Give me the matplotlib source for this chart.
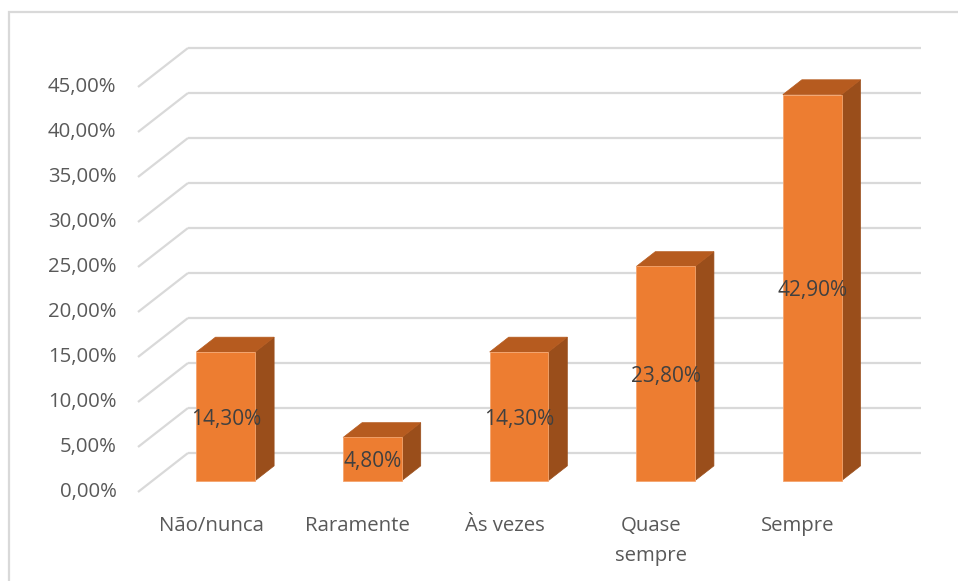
import matplotlib
matplotlib.use("Agg")
import matplotlib.pyplot as plt
from matplotlib.patches import Polygon, Rectangle

categories = ["Não/nunca", "Raramente", "Às vezes", "Quase\nsempre", "Sempre"]
values = [14.30, 4.80, 14.30, 23.80, 42.90]
value_labels = ["14,30%", "4,80%", "14,30%", "23,80%", "42,90%"]
y_ticks = [0, 5, 10, 15, 20, 25, 30, 35, 40, 45]
y_tick_labels = ["0,00%", "5,00%", "10,00%", "15,00%", "20,00%",
                 "25,00%", "30,00%", "35,00%", "40,00%", "45,00%"]

FRONT = "#ED7D31"
TOP = "#B65B1F"
SIDE = "#9A4E1B"
GRID = "#D9D9D9"
TICK_COLOR = "#595959"
LABEL_COLOR = "#404040"
FONT = "Open Sans"
FS = 14.7

W, H, DPI = 958, 581, 100
fig = plt.figure(figsize=(W / DPI, H / DPI), dpi=DPI)
ax = fig.add_axes([0, 0, 1, 1])

# oblique projection: category unit = 146.6 px, 1 % = 9 px
px_per_cat, px_per_pct = 146.6, 9.0
x0_px, y0_px = 211.3, 492.0
ax.set_xlim((0 - x0_px) / px_per_cat, (W - x0_px) / px_per_cat)
ax.set_ylim((y0_px - H) / px_per_pct, y0_px / px_per_pct)
ax.axis("off")

# depth offsets of the back wall (in data units)
DX = 50 / px_per_cat
DY = 39 / px_per_pct
n = len(categories)
x_left, x_right = -0.5, n - 0.5

# walls: side-wall diagonals and back-wall horizontal gridlines
for t in y_ticks:
    ax.plot([x_left, x_left + DX], [t, t + DY], color=GRID, lw=1.6,
            solid_capstyle="butt", zorder=1)
    ax.plot([x_left + DX, x_right + DX], [t + DY, t + DY], color=GRID,
            lw=1.6, solid_capstyle="butt", zorder=1)

# 3-D bars
bw = 0.40
d0, d1 = 0.29, 0.67
for i, v in enumerate(values):
    xl = i - bw / 2 + d0 * DX
    xr = xl + bw
    yb = d0 * DY
    yt = yb + v
    ddx = (d1 - d0) * DX
    ddy = (d1 - d0) * DY
    ax.add_patch(Polygon([(xr, yb), (xr + ddx, yb + ddy), (xr + ddx, yt + ddy), (xr, yt)],
                         closed=True, facecolor=SIDE, edgecolor=SIDE, lw=0.5, zorder=3))
    ax.add_patch(Polygon([(xl, yt), (xr, yt), (xr + ddx, yt + ddy), (xl + ddx, yt + ddy)],
                         closed=True, facecolor=TOP, edgecolor=TOP, lw=0.5, zorder=3))
    ax.add_patch(Rectangle((xl, yb), bw, v, facecolor=FRONT,
                           edgecolor="#F4A56E", lw=0.6, zorder=4))
    ax.annotate(value_labels[i], (i + d0 * DX, yb + v / 2), xytext=(0, -2),
                textcoords="offset points", ha="center", va="center",
                fontsize=FS + 0.3, color=LABEL_COLOR, family=FONT, zorder=5)

# value axis labels
for t, lab in zip(y_ticks, y_tick_labels):
    ax.annotate(lab, (x_left, t), xytext=(-15.5, 0), textcoords="offset points",
                ha="right", va="center", fontsize=FS, color=TICK_COLOR, family=FONT)

# category labels
for i, lab in enumerate(categories):
    ax.annotate(lab, (i, 0), xytext=(0, -17.3), textcoords="offset points",
                ha="center", va="top", fontsize=FS, color=TICK_COLOR,
                family=FONT, linespacing=1.68)

# chart area border
fig.patches.append(Rectangle((9 / W, -0.1), 1.2, 1 - 12 / H + 0.1,
                             transform=fig.transFigure, fill=False,
                             edgecolor=GRID, lw=1.6))

fig.savefig("out.png", dpi=DPI)
